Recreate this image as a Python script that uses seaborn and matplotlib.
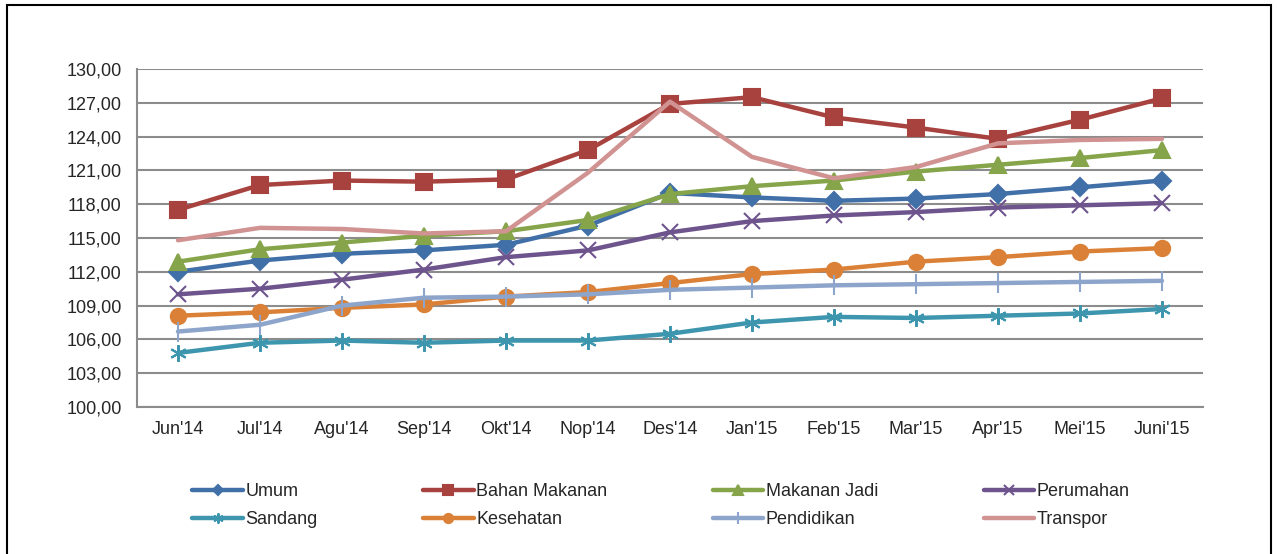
import matplotlib
matplotlib.use("Agg")
import matplotlib.pyplot as plt
import matplotlib.ticker as ticker
from matplotlib.patches import Rectangle
import seaborn as sns
import pandas as pd
import numpy as np

sns.set_theme(style="white")
plt.rcParams['font.family'] = ['Liberation Sans', 'DejaVu Sans']

months = ["Jun'14", "Jul'14", "Agu'14", "Sep'14", "Okt'14", "Nop'14", "Des'14",
          "Jan'15", "Feb'15", "Mar'15", "Apr'15", "Mei'15", "Juni'15"]

umum        = [112.0, 113.0, 113.6, 113.9, 114.4, 116.1, 119.0, 118.6, 118.3, 118.5, 118.9, 119.5, 120.1]
bahan       = [117.5, 119.7, 120.1, 120.0, 120.2, 122.8, 126.9, 127.5, 125.7, 124.8, 123.8, 125.5, 127.4]
makanan     = [112.9, 114.0, 114.6, 115.2, 115.6, 116.6, 118.9, 119.6, 120.1, 120.9, 121.5, 122.1, 122.8]
perumahan   = [110.0, 110.5, 111.3, 112.2, 113.3, 113.9, 115.5, 116.5, 117.0, 117.3, 117.7, 117.9, 118.1]
sandang     = [104.8, 105.7, 105.9, 105.7, 105.9, 105.9, 106.5, 107.5, 108.0, 107.9, 108.1, 108.3, 108.7]
kesehatan   = [108.1, 108.4, 108.8, 109.1, 109.8, 110.2, 111.0, 111.8, 112.2, 112.9, 113.3, 113.8, 114.1]
pendidikan  = [106.7, 107.3, 109.0, 109.7, 109.8, 110.0, 110.4, 110.6, 110.8, 110.9, 111.0, 111.1, 111.2]
transpor    = [114.8, 115.9, 115.8, 115.4, 115.6, 120.8, 127.1, 122.2, 120.3, 121.3, 123.4, 123.7, 123.8]

names = ["Umum", "Bahan Makanan", "Makanan Jadi", "Perumahan",
         "Sandang", "Kesehatan", "Pendidikan", "Transpor"]
series = [umum, bahan, makanan, perumahan, sandang, kesehatan, pendidikan, transpor]
colors = ["#4170A8", "#A8423F", "#86A44A", "#6E548D",
          "#3D96AE", "#DA8137", "#8EA5CB", "#D09392"]
markers = ["D", "s", "^", "x", (6, 2, 0), "o", "|", None]
msizes = [9, 12, 11, 11, 12, 11, 14, 0]

fig = plt.figure(figsize=(12.77, 5.54), dpi=100)
ax = fig.add_axes([137/1277, 147/554, 1066/1277, 338/554])

for name, vals, c, m, ms in zip(names, series, colors, markers, msizes):
    df = pd.DataFrame({"x": np.arange(len(months)), "y": vals})
    kw = dict(marker=m, markersize=ms, markeredgecolor=c, markeredgewidth=1.5) if m else {}
    sns.lineplot(data=df, x="x", y="y", ax=ax, color=c, linewidth=3.2,
                 label=name, zorder=3, **kw)

ax.set_xlim(-0.5, len(months) - 0.5)
ax.set_ylim(100, 130)
ax.yaxis.set_major_locator(ticker.FixedLocator(np.arange(100, 131, 3)))
ax.yaxis.set_major_formatter(ticker.FuncFormatter(lambda v, p: f"{v:.2f}".replace(".", ",")))
ax.set_xticks(np.arange(len(months)))
ax.set_xticklabels(months)
ax.set_xticks(np.arange(-0.5, len(months)), minor=True)
ax.tick_params(axis="x", which="major", length=0, pad=10, labelsize=13)
ax.tick_params(axis="x", which="minor", length=5, width=1.5, color="#888888", direction="out")
ax.tick_params(axis="y", length=7, width=1.5, color="#888888", direction="out", pad=4, labelsize=13)
ax.set_xlabel("")
ax.set_ylabel("")
ax.grid(axis="y", color="#8c8c8c", linewidth=1.5)
ax.grid(axis="x", visible=False)
for s in ["top", "right"]:
    ax.spines[s].set_visible(False)
for s in ["left", "bottom"]:
    ax.spines[s].set_color("#8c8c8c")
    ax.spines[s].set_linewidth(1.5)

handles, labels = ax.get_legend_handles_labels()
order = [0, 4, 1, 5, 2, 6, 3, 7]
leg = ax.legend([handles[i] for i in order], [labels[i] for i in order],
                loc="upper left", bbox_to_anchor=(185/1277, 0, 952/1277, 78/554),
                bbox_transform=fig.transFigure, ncol=4, mode="expand", frameon=False,
                fontsize=13, handlelength=2.8, handletextpad=0.15, labelspacing=0.6,
                borderaxespad=0, markerscale=0.6)

fig.patches.append(Rectangle((7/1277, -0.01), 1264/1277, 1 - 5/554 + 0.01,
                             transform=fig.transFigure, fill=False,
                             edgecolor="black", linewidth=1.5))

fig.savefig("out.png", dpi=100)
